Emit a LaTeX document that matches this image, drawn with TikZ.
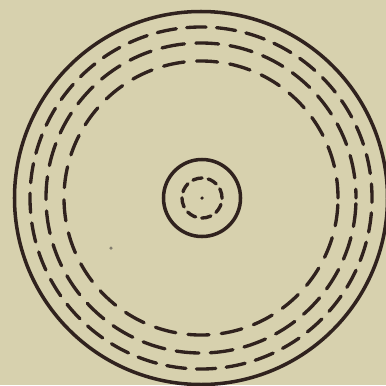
\documentclass[tikz,border=0pt]{standalone}
\usepackage{xcolor}
\usepackage{tikz}
\definecolor{paperBeige}{RGB}{215,209,174}
\definecolor{inkBrown}{RGB}{48,34,30}
\definecolor{speckGray}{RGB}{130,125,110}

\begin{document}
\begin{tikzpicture}[x=1cm,y=1cm,
    ring/.style={draw=inkBrown, line width=2pt},
    dashring/.style={draw=inkBrown, line width=1.9pt, line cap=round}]

% =========================
% 0. paper
% =========================
\fill[paperBeige] (-4.02,-3.74) rectangle (3.70,3.96);
\useasboundingbox (-4.02,-3.74) rectangle (3.70,3.96);

% =========================
% 1. outer rings
% =========================
\draw[ring] (0,0) circle (3.73);

\draw[dashring, dash pattern=on 11pt off 6pt, dash phase=3pt] (0,0) circle (3.42);
\draw[dashring, dash pattern=on 13pt off 6.5pt, dash phase=8pt] (0,0) circle (3.10);
\draw[dashring, dash pattern=on 12pt off 7pt, dash phase=1pt] (0,0) circle (2.74);

% =========================
% 2. inner rings
% =========================
\draw[ring] (0.02,0) circle (0.77);
\draw[dashring, dash pattern=on 5.4pt off 3.5pt] (0.02,0) circle (0.40);

% centre point and the little speck
\fill[inkBrown] (0.02,0) circle (1pt);
\fill[speckGray] (-1.80,-1.00) circle (1pt);

\end{tikzpicture}
\end{document}
